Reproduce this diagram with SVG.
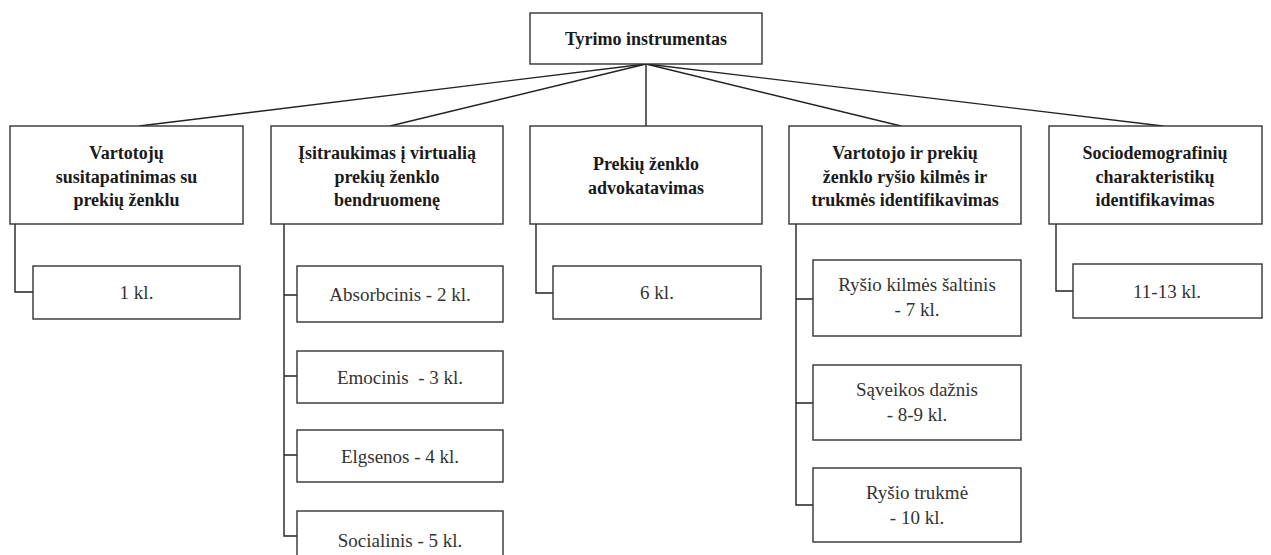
<svg xmlns="http://www.w3.org/2000/svg" width="1271" height="555" viewBox="0 0 1271 555">
<style>
rect{fill:#fff;stroke:#333;stroke-width:1.4}
.c path,.c line{fill:none;stroke:#222;stroke-width:1.4}
</style>
<rect x="0" y="0" width="1271" height="555" style="fill:#fff;stroke:none"/>
<g class="c" id="connectors">
<line x1="646" y1="64" x2="139" y2="126"/>
<line x1="646" y1="64" x2="390" y2="126"/>
<line x1="646" y1="64" x2="646" y2="126"/>
<line x1="646" y1="64" x2="901" y2="126"/>
<line x1="646" y1="64" x2="1163" y2="126"/>
<path d="M15 224V292H33"/>
<path d="M284 224V536H297M284 295H297M284 376H297M284 455H297"/>
<path d="M536 224V293H553"/>
<path d="M796 224V505H813M796 299H813M796 403H813"/>
<path d="M1056 224V291H1073"/>
</g>
<g font-family="Liberation Serif" font-weight="bold" font-size="18" fill="#1a1a1a" text-anchor="middle">
<g id="root"><rect x="530" y="13" width="232" height="51"/><text x="646" y="45">Tyrimo instrumentas</text></g>
<g id="n1"><rect x="10" y="126" width="233" height="98"/><text><tspan x="126.5" y="159">Vartotojų</tspan><tspan x="126.5" y="183">susitapatinimas su</tspan><tspan x="126.5" y="206">prekių ženklu</tspan></text></g>
<g id="n2"><rect x="271" y="126" width="232" height="98"/><text><tspan x="387" y="159">Įsitraukimas į virtualią</tspan><tspan x="387" y="183">prekių ženklo</tspan><tspan x="387" y="206">bendruomenę</tspan></text></g>
<g id="n3"><rect x="530" y="126" width="232" height="98"/><text><tspan x="646" y="170">Prekių ženklo</tspan><tspan x="646" y="194">advokatavimas</tspan></text></g>
<g id="n4"><rect x="789" y="126" width="232" height="98"/><text><tspan x="905" y="159">Vartotojo ir prekių</tspan><tspan x="905" y="183">ženklo ryšio kilmės ir</tspan><tspan x="905" y="206">trukmės identifikavimas</tspan></text></g>
<g id="n5"><rect x="1049" y="126" width="213" height="98"/><text><tspan x="1155" y="159">Sociodemografinių</tspan><tspan x="1155" y="183">charakteristikų</tspan><tspan x="1155" y="206">identifikavimas</tspan></text></g>
</g>
<g font-family="Liberation Serif" font-size="19" fill="#333" text-anchor="middle">
<g id="s1"><rect x="33" y="266" width="207" height="53"/><text x="136.5" y="299">1 kl.</text></g>
<g id="s2"><rect x="297" y="266" width="206" height="56"/><text x="400" y="301">Absorbcinis - 2 kl.</text></g>
<g id="s3"><rect x="297" y="351" width="206" height="52"/><text x="400" y="384" xml:space="preserve">Emocinis  - 3 kl.</text></g>
<g id="s4"><rect x="297" y="430" width="206" height="52"/><text x="400" y="463">Elgsenos - 4 kl.</text></g>
<g id="s5"><rect x="297" y="511" width="206" height="60"/><text x="400" y="547">Socialinis - 5 kl.</text></g>
<g id="s6"><rect x="553" y="266" width="208" height="53"/><text x="657" y="299">6 kl.</text></g>
<g id="s7"><rect x="813" y="260" width="208" height="76"/><text><tspan x="917" y="291">Ryšio kilmės šaltinis</tspan><tspan x="917" y="316">- 7 kl.</tspan></text></g>
<g id="s8"><rect x="813" y="365" width="208" height="75"/><text><tspan x="917" y="396">Sąveikos dažnis</tspan><tspan x="917" y="421">- 8-9 kl.</tspan></text></g>
<g id="s9"><rect x="813" y="468" width="208" height="74"/><text><tspan x="917" y="499">Ryšio trukmė</tspan><tspan x="917" y="524">- 10 kl.</tspan></text></g>
<g id="s10"><rect x="1073" y="264" width="189" height="54"/><text x="1167" y="298">11-13 kl.</text></g>
</g>
</svg>
